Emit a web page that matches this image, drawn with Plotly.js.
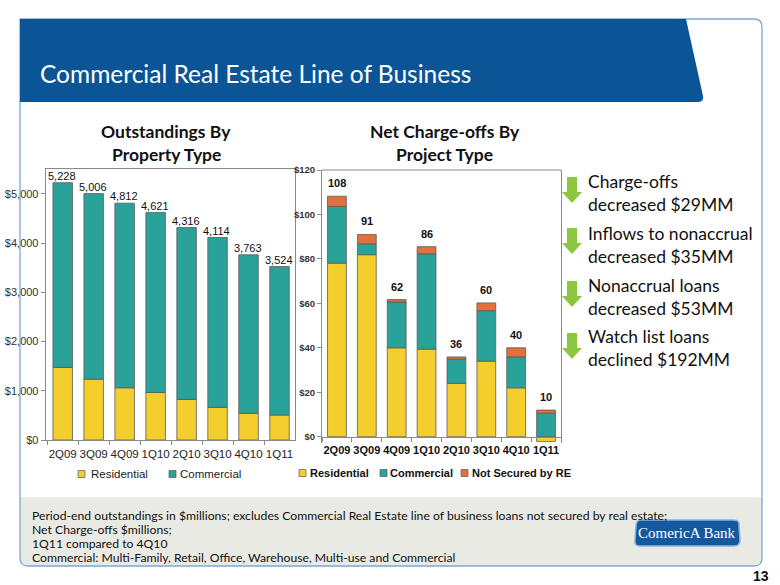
<!DOCTYPE html>
<html><head><meta charset="utf-8">
<script src="https://cdn.plot.ly/plotly-3.0.1.min.js"></script>
<style>html,body{margin:0;padding:0;background:#fff;}#chart{width:780px;height:585px;}</style>
</head><body><div id="chart"></div>
<script>
// ---- data ----
const quarters = ['2Q09','3Q09','4Q09','1Q10','2Q10','3Q10','4Q10','1Q11'];
const outResidential = [1474,1236,1061,966,824,662,540,507];
const outCommercial  = [3754,3770,3751,3655,3492,3452,3223,3017];
const outTotalLabels = ['5,228','5,006','4,812','4,621','4,316','4,114','3,763','3,524'];
const ncoResidential = [78.1,81.9,40.0,39.4,24.0,34.0,22.0,-2.2];
const ncoCommercial  = [25.5,4.9,20.6,42.9,10.9,22.7,13.9,10.6];
const ncoNotSecured  = [4.6,4.2,1.1,3.2,1.0,3.5,4.1,1.4];
const ncoTotalLabels = ['108','91','62','86','36','60','40','10'];
const outSeriesNames = ['Residential','Commercial'];
const ncoSeriesNames = ['Residential','Commercial','Not Secured by RE'];
const bullets = [['Charge-offs','decreased $29MM'],['Inflows to nonaccrual','decreased $35MM'],['Nonaccrual loans','decreased $53MM'],['Watch list loans','declined $192MM']];
const footnotes = ['Period-end outstandings in $millions; excludes Commercial Real Estate line of business loans not secured by real estate;','Net Charge-offs $millions;','1Q11 compared to 4Q10','Commercial: Multi-Family, Retail, Office, Warehouse, Multi-use and Commercial'];

// ---- helpers (pixel -> paper) ----
const W = 780, H = 585;
const X = p => p / W;
const Y = p => 1 - p / H;
const P = pts => pts.map(([c, a, b]) => c + (a === undefined ? '' : X(a) + ',' + Y(b))).join(' ');

const YEL = '#F4CE2D', TEAL = '#29A39A', ORG = '#E1703D', EDGE = '#5a5a5a';
const AF = 'Liberation Sans, Arial, sans-serif';
const SF = 'Lato, Calibri, sans-serif';
const COLORS = [YEL, TEAL, ORG];

const traces = [
  {type:'bar', x:quarters, y:outResidential, name:outSeriesNames[0], xaxis:'x', yaxis:'y',
   marker:{color:YEL, line:{color:EDGE, width:0.8}}, hoverinfo:'skip'},
  {type:'bar', x:quarters, y:outCommercial, name:outSeriesNames[1], xaxis:'x', yaxis:'y',
   marker:{color:TEAL, line:{color:EDGE, width:0.8}}, hoverinfo:'skip'},
  {type:'bar', x:quarters, y:ncoResidential, name:ncoSeriesNames[0], xaxis:'x2', yaxis:'y2',
   marker:{color:YEL, line:{color:EDGE, width:0.8}}, hoverinfo:'skip'},
  {type:'bar', x:quarters, y:ncoCommercial, name:ncoSeriesNames[1], xaxis:'x2', yaxis:'y2',
   marker:{color:TEAL, line:{color:EDGE, width:0.8}}, hoverinfo:'skip'},
  {type:'bar', x:quarters, y:ncoNotSecured, name:ncoSeriesNames[2], xaxis:'x2', yaxis:'y2',
   marker:{color:ORG, line:{color:EDGE, width:0.8}}, hoverinfo:'skip'}
];

const annotations = [];
const shapes = [];
quarters.forEach((q, i) => {
  annotations.push({x:q, y:outResidential[i] + outCommercial[i], xref:'x', yref:'y', text:outTotalLabels[i],
    showarrow:false, yanchor:'bottom', xshift:-1, yshift:-1, font:{family:AF, size:11, color:'#111'}});
  const top = [ncoResidential[i], ncoCommercial[i], ncoNotSecured[i]].filter(v => v > 0).reduce((a, b) => a + b, 0);
  annotations.push({x:q, y:top, xref:'x2', yref:'y2', text:'<b>' + ncoTotalLabels[i] + '</b>',
    showarrow:false, yanchor:'bottom', yshift:5, font:{family:AF, size:11, color:'#111'}});
});

// legends (key squares + labels)
const legendLeft = [[78, 89], [169, 178]];
outSeriesNames.forEach((n, i) => {
  const [sx, tx] = legendLeft[i];
  shapes.push({type:'rect', xref:'paper', yref:'paper', x0:X(sx), x1:X(sx + 7), y0:Y(470.5), y1:Y(477.5),
    fillcolor:COLORS[i], line:{color:EDGE, width:0.7}});
  annotations.push({x:X(tx), y:Y(474), xref:'paper', yref:'paper', xanchor:'left', yanchor:'middle', showarrow:false,
    text:n, font:{family:AF, size:11.5, color:'#222'}});
});
const legendRight = [[299, 308], [380, 388], [461, 470]];
ncoSeriesNames.forEach((n, i) => {
  const [sx, tx] = legendRight[i];
  shapes.push({type:'rect', xref:'paper', yref:'paper', x0:X(sx), x1:X(sx + 7), y0:Y(469.5), y1:Y(476.5),
    fillcolor:COLORS[i], line:{color:EDGE, width:0.7}});
  annotations.push({x:X(tx), y:Y(473), xref:'paper', yref:'paper', xanchor:'left', yanchor:'middle', showarrow:false,
    text:'<b>' + n + '</b>', font:{family:AF, size:11, color:'#111'}});
});

// slide texts
annotations.push({x:X(38), y:Y(73), xref:'paper', yref:'paper', xanchor:'left', yanchor:'middle', showarrow:false,
  text:'Commercial Real Estate Line of Business', font:{family:SF, size:24.5, color:'#ffffff'}});
[['Outstandings By',166,131.5],['Property Type',166,155],['Net Charge-offs By',444.5,131.5],['Project Type',444,155]].forEach(t => {
  annotations.push({x:X(t[1]), y:Y(t[2]), xref:'paper', yref:'paper', xanchor:'center', yanchor:'middle', showarrow:false,
    text:'<b>' + t[0] + '</b>', font:{family:SF, size:17.5, color:'#111'}});
});
const bulletMidY = [193, 245, 296.5, 347.5];
bullets.forEach((b, i) => {
  annotations.push({x:X(587), y:Y(bulletMidY[i]), xref:'paper', yref:'paper', xanchor:'left', yanchor:'middle', showarrow:false,
    align:'left', borderpad:0, text:b.join('<br>'), font:{family:SF, size:17.5, color:'#111'}});
});
const footY = [515.7, 529.5, 543.5, 557.5];
footnotes.forEach((t, i) => {
  annotations.push({x:X(31), y:Y(footY[i]), xref:'paper', yref:'paper', xanchor:'left', yanchor:'middle', showarrow:false,
    borderpad:0, text:t, font:{family:SF, size:12.2, color:'#111'}});
});
annotations.push({x:X(687), y:Y(533), xref:'paper', yref:'paper', xanchor:'center', yanchor:'middle', showarrow:false,
  text:'ComericA Bank', font:{family:'Liberation Serif, DejaVu Serif, serif', size:15, color:'#ffffff'}});
annotations.push({x:X(771), y:Y(576), xref:'paper', yref:'paper', xanchor:'right', yanchor:'middle', showarrow:false,
  text:'<b>13</b>', font:{family:AF, size:14, color:'#111'}});

// footer panel
shapes.push({type:'path', xref:'paper', yref:'paper', layer:'below', line:{width:0}, fillcolor:'#E9EAE3',
  path:P([['M',20,497],['L',762,497],['L',762,558],['Q',762,566],['',754,566],['L',28,566],['Q',20,566],['',20,558],['Z']])});
// outer frame
shapes.push({type:'path', xref:'paper', yref:'paper', layer:'below', line:{color:'#7FA6D2', width:1.3}, fillcolor:'rgba(0,0,0,0)',
  path:P([['M',20,19],['L',754,19],['Q',762,19],['',762,27],['L',762,558],['Q',762,566],['',754,566],['L',28,566],['Q',20,566],['',20,558],['Z']])});
// banner
shapes.push({type:'path', xref:'paper', yref:'paper', layer:'below', line:{width:0}, fillcolor:'#0B5596',
  path:P([['M',20,19],['L',686,19],['L',703,96],['Q',704,102],['',698,102],['L',20,102],['Z']])});
// logo
shapes.push({type:'path', xref:'paper', yref:'paper', layer:'below', line:{color:'#8FB0D6', width:1.5}, fillcolor:'#14589F',
  path:P([['M',641,520],['L',734,520],['Q',740,520],['',739,526],['L',740,540],['Q',740,546],['',734,546],['L',640,546],['Q',634,546],['',635,540],['L',636,526],['Q',636,520],['',641,520],['Z']])});
// right chart top frame line
shapes.push({type:'line', xref:'paper', yref:'paper', x0:X(322), x1:X(561), y0:Y(170), y1:Y(170), line:{color:'#8a8a8a', width:1}});
// arrows
const arrowTop = [177, 228, 281, 333];
arrowTop.forEach(t => {
  shapes.push({type:'path', xref:'paper', yref:'paper', line:{width:0}, fillcolor:'#8DC63F',
    path:P([['M',567,t],['L',577,t],['L',577,t+15],['L',582,t+15],['L',572,t+26],['L',562,t+15],['L',567,t+15],['Z']])});
});

const axisCommon = {showgrid:false, zeroline:false, showline:true, linecolor:'#8a8a8a', linewidth:1, fixedrange:true};
const layout = {
  width:W, height:H, margin:{l:0, r:0, t:0, b:0}, paper_bgcolor:'#ffffff', plot_bgcolor:'rgba(0,0,0,0)',
  barmode:'relative', bargap:0.37, showlegend:false, font:{family:AF, color:'#222'},
  xaxis:Object.assign({}, axisCommon, {domain:[X(45.7), X(295)], anchor:'y', mirror:true, ticks:'outside', ticklen:4,
    tickson:'boundaries', tickangle:0, ticklabelstandoff:3, tickcolor:'#8a8a8a', tickfont:{family:AF, size:11.5, color:'#222'}}),
  yaxis:Object.assign({}, axisCommon, {domain:[Y(440), Y(169.3)], anchor:'x', range:[0,5500], dtick:1000, mirror:true,
    ticks:'outside', ticklen:4, tickcolor:'#8a8a8a', tickprefix:'$', tickformat:',d', tickfont:{family:AF, size:11, color:'#333'}}),
  xaxis2:Object.assign({}, axisCommon, {domain:[X(322), X(561)], anchor:'free', position:Y(436.7), ticks:'outside', ticklen:4,
    tickson:'boundaries', tickangle:0, ticklabelstandoff:3, tickcolor:'#8a8a8a', tickfont:{family:AF, size:11, color:'#111', weight:'bold'}}),
  yaxis2:Object.assign({}, axisCommon, {domain:[Y(442.5), Y(170)], anchor:'x2', range:[-2.6,120], dtick:20, mirror:true,
    ticks:'outside', ticklen:4, tickcolor:'#8a8a8a', tickprefix:'$', tickfont:{family:AF, size:9.5, color:'#333', weight:'bold'}}),
  annotations:annotations, shapes:shapes
};
Plotly.newPlot('chart', traces, layout, {staticPlot:true, displayModeBar:false});
</script>
</body></html>
